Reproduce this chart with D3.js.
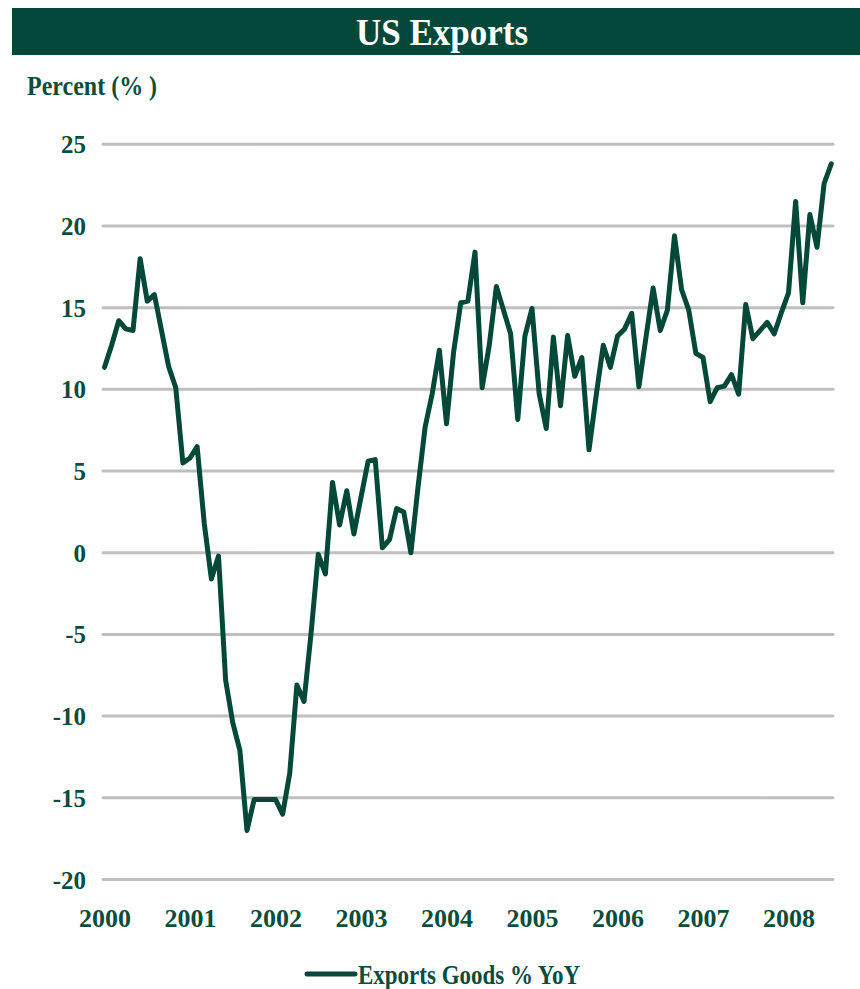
<!DOCTYPE html>
<html>
<head>
<meta charset="utf-8">
<script src="https://cdn.jsdelivr.net/npm/d3@7"></script>
<style>
  html, body { margin: 0; padding: 0; background: #ffffff; }
  svg { display: block; }
  text { font-family: "Liberation Serif", "Times New Roman", serif; font-weight: bold; }
</style>
</head>
<body>
<script>
// ---- Data (monthly, Exports Goods % YoY) ----
const years = ["2000", "2001", "2002", "2003", "2004", "2005", "2006", "2007", "2008"];
const exports2000 = [11.35, 12.7, 14.2, 13.7, 13.6, 18.0, 15.4, 15.8, 13.6, 11.4, 10.1, 5.5];
const exports2001 = [5.8, 6.5, 1.8, -1.6, -0.2, -7.8, -10.4, -12.1, -17.0, -15.1, -15.1, -15.1];
const exports2002 = [-15.1, -16.0, -13.5, -8.1, -9.1, -4.9, -0.1, -1.3, 4.3, 1.7, 3.8, 1.15];
const exports2003 = [3.4, 5.6, 5.7, 0.3, 0.8, 2.7, 2.5, 0.0, 4.0, 7.7, 9.75, 12.4];
const exports2004 = [7.9, 12.3, 15.3, 15.4, 18.4, 10.1, 12.7, 16.3, 14.85, 13.4, 8.15, 13.26];
const exports2005 = [14.95, 9.75, 7.6, 13.2, 9.0, 13.3, 10.8, 11.95, 6.3, 9.6, 12.7, 11.35];
const exports2006 = [13.26, 13.7, 14.65, 10.16, 13.2, 16.2, 13.6, 14.85, 19.4, 16.1, 14.85, 12.2];
const exports2007 = [11.95, 9.25, 10.1, 10.2, 10.9, 9.7, 15.2, 13.1, 13.6, 14.1, 13.4, 14.7];
const exports2008 = [15.9, 21.5, 15.3, 20.7, 18.7, 22.6, 23.8];
const yTicks = [25, 20, 15, 10, 5, 0, -5, -10, -15, -20];
const seriesName = "Exports Goods % YoY";
const chartTitle = "US Exports";
const yTitle = "Percent (% )";

const byYear = [exports2000, exports2001, exports2002, exports2003, exports2004,
                exports2005, exports2006, exports2007, exports2008];
const data = [];
byYear.forEach((arr, yi) => arr.forEach((v, m) => data.push({ idx: yi * 12 + m, value: v })));

// ---- Layout ----
const W = 860, H = 989;
const green = "#034839";
const textGreen = "#0b4d3c";

const svg = d3.select("body").append("svg").attr("width", W).attr("height", H);

// Title bar
svg.append("rect").attr("x", 12).attr("y", 8).attr("width", W - 12).attr("height", 47).attr("fill", green);
svg.append("text")
  .attr("transform", "translate(442,45) scale(1,1.08)")
  .attr("text-anchor", "middle").attr("fill", "#ffffff").attr("font-size", 35)
  .text(chartTitle);

// Y title
svg.append("text")
  .attr("transform", "translate(27,95) scale(1,1.1)")
  .attr("fill", textGreen).attr("font-size", 24)
  .text(yTitle);

// Scales
const x = d3.scaleLinear().domain([0, 96]).range([104.5, 788.5]);
const y = d3.scaleLinear().domain([-20, 25]).range([879.5, 144.3]);

// Gridlines
svg.append("g").selectAll("line").data(yTicks).join("line")
  .attr("x1", 103).attr("x2", 833)
  .attr("y1", d => y(d)).attr("y2", d => y(d))
  .attr("stroke", "#bfbfbf").attr("stroke-width", 3).attr("stroke-linecap", "round");

// Y axis labels
const yAxis = d3.axisLeft(y).tickValues(yTicks).tickSize(0).tickPadding(0).tickFormat(d => String(d));
const gy = svg.append("g").attr("transform", "translate(86,0)").call(yAxis);
gy.select(".domain").remove();
gy.selectAll("text")
  .attr("font-family", "Liberation Serif, Times New Roman, serif")
  .attr("font-weight", "bold")
  .attr("font-size", 25).attr("fill", textGreen)
  .attr("dy", null).attr("x", 0).attr("y", 8.5)
  .attr("text-anchor", "end");

// X axis labels
const xAxis = d3.axisBottom(x).tickValues(years.map((d, i) => i * 12)).tickSize(0).tickPadding(0)
  .tickFormat((d, i) => years[i]);
const gx = svg.append("g").attr("transform", "translate(0,0)").call(xAxis);
gx.select(".domain").remove();
gx.selectAll("text")
  .attr("font-family", "Liberation Serif, Times New Roman, serif")
  .attr("font-weight", "bold")
  .attr("font-size", 26).attr("fill", textGreen)
  .attr("dy", null).attr("y", 927)
  .attr("text-anchor", "middle");

// Series line
const line = d3.line().x(d => x(d.idx)).y(d => y(d.value));
svg.append("path").datum(data)
  .attr("d", line)
  .attr("fill", "none").attr("stroke", green).attr("stroke-width", 5)
  .attr("stroke-linejoin", "round").attr("stroke-linecap", "round");

// Legend
svg.append("line").attr("x1", 307).attr("x2", 355).attr("y1", 974).attr("y2", 974)
  .attr("stroke", green).attr("stroke-width", 5).attr("stroke-linecap", "round");
svg.append("text")
  .attr("transform", "translate(358,984) scale(1,1.15)")
  .attr("fill", textGreen).attr("font-size", 23)
  .text(seriesName);
</script>
</body>
</html>
